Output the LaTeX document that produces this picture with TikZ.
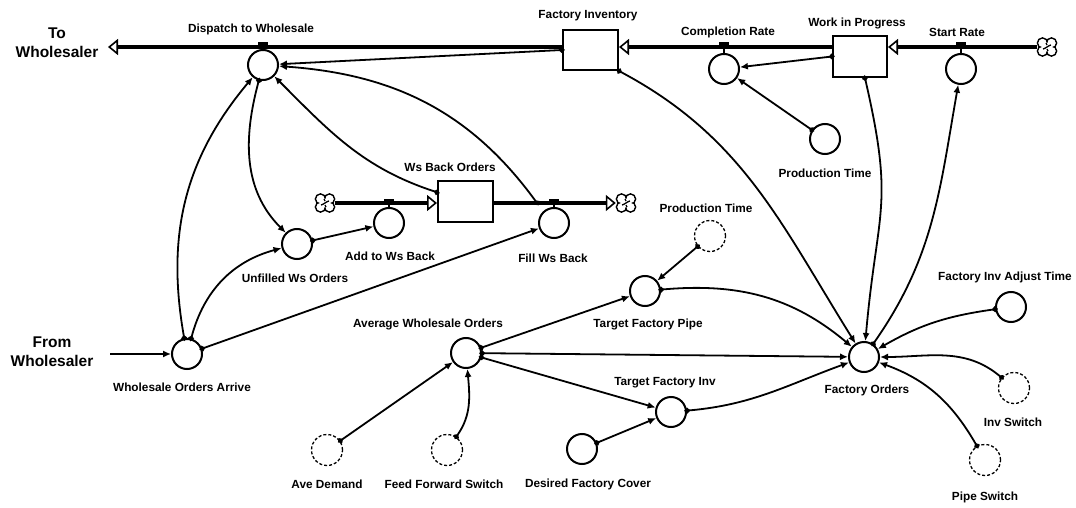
\documentclass[tikz,border=0pt]{standalone}
\usepackage{fontspec}
\setmainfont{Liberation Sans}
\usetikzlibrary{arrows.meta,calc}
\tikzset{
 aux/.style={circle, draw, line width=2pt, minimum size=30pt, inner sep=0pt},
 ghost/.style={circle, draw, line width=1.3pt, dash pattern=on 3pt off 2pt, minimum size=31pt, inner sep=0pt},
 stock/.style={rectangle, draw, line width=2pt, inner sep=0pt},
 link/.style={line width=1.8pt, {Circle[length=5.5pt]}-{Latex[length=8pt,width=7pt]}, shorten <=-2.5pt},
 pipe/.style={line width=3.5pt, -{Triangle[open,line width=1.6pt,length=10pt,width=16pt]}},
 stem/.style={line width=1.6pt},
 lbl/.style={font=\bfseries\fontsize{11.8}{13}\selectfont, inner sep=0pt},
 big/.style={font=\bfseries\fontsize{15.5}{19}\selectfont, align=center, inner sep=0pt},
 cloudspot/.style={minimum width=20pt, minimum height=18pt, inner sep=0pt},
 cloudpic/.pic={
   \foreach \dx/\dy in {-4.5/-4,4.5/-4,-4.5/4,4.5/4} \draw[line width=1.6pt] (\dx,\dy) circle (5);
   \foreach \dx/\dy in {-4.5/-4,4.5/-4,-4.5/4,4.5/4} \fill[white] (\dx,\dy) circle (4.1);
   \fill[white] (-4.5,-4) rectangle (4.5,4);
   \draw[line width=1.3pt] (-4,-2) to[out=0,in=200] (0,0) to[out=20,in=180] (4,2);
   \draw[line width=1.3pt] (-1,4) -- (0,2);
   \draw[line width=1.3pt] (1,-4) -- (0,-2);
 }
}
\begin{document}
\begin{tikzpicture}[x=1pt,y=1pt]
\useasboundingbox (0,0) rectangle (1076,507);
% stocks
\node[stock, minimum width=55pt, minimum height=40pt] (fi) at (590.5,457) {};
\node[stock, minimum width=54pt, minimum height=41pt] (wip) at (860,450.5) {};
\node[stock, minimum width=55pt, minimum height=41pt] (wbo) at (465.5,305.5) {};
% cloud places
\node[cloudspot] (cl1) at (325,304) {};
\node[cloudspot] (cl2) at (626,304) {};
\node[cloudspot] (cl3) at (1047,460) {};
% valves and auxiliaries
\node[aux] (disp) at (263,442) {};
\node[aux] (comp) at (724,438) {};
\node[aux] (start) at (961,438) {};
\node[aux] (addws) at (389,284) {};
\node[aux] (fill) at (554,284) {};
\node[aux] (pt1) at (825,368) {};
\node[aux] (unf) at (297,263) {};
\node[aux] (woa) at (187,153) {};
\node[aux] (awo) at (466,154) {};
\node[aux] (fo) at (864,150) {};
\node[aux] (tfp) at (645,216) {};
\node[ghost] (pt2) at (710,271) {};
\node[aux] (tfi) at (671,95) {};
\node[aux] (dfc) at (582,58) {};
\node[ghost] (ad) at (327,57) {};
\node[ghost] (ffs) at (447,57) {};
\node[aux] (fiat) at (1011,200) {};
\node[ghost] (isw) at (1014,119) {};
\node[ghost] (psw) at (985,47) {};
% pipes
\coordinate (toW) at (108,460);
\coordinate (fromW) at (110,153);
\draw[pipe] (fi.west |- toW) -- (toW);
\draw[pipe] (wip.west |- toW) -- (fi.east |- toW);
\draw[pipe] (cl3.west) -- (wip.east |- toW);
\draw[pipe] (cl1.east) -- (wbo.west |- cl1);
\draw[pipe] (wbo.east |- cl2) -- (cl2.west);
% clouds
\pic at (cl1) {cloudpic};
\pic at (cl2) {cloudpic};
\pic at (cl3) {cloudpic};
% valve stems
\foreach \v/\p in {disp/toW, comp/toW, start/toW, addws/cl1, fill/cl1}{
  \draw[stem] (\v.north) -- (\v.north |- \p);
  \fill ($(\v.north |- \p)+(-5,1.5)$) rectangle ++(10,3);
}
% inflow from wholesaler
\draw[line width=1.5pt, -{Latex[length=8pt,width=7pt]}] (fromW) -- (woa);
% connectors
\coordinate (fdot) at (537,304);
\draw[link] (fi.west) -- (disp);
\draw[link] (woa) to[out=100,in=230] (disp);
\draw[link] (disp) to[out=255,in=135] (unf);
\draw[link] (woa) to[out=75,in=195] (unf);
\draw[link] (unf) -- (addws);
\draw[link] (woa) -- (fill);
\draw[link] (wbo) to[out=162,in=315] (disp);
\draw[link] (fdot) to[out=126,in=356] (disp);
\draw[link] (wip.west) -- (comp);
\draw[link] (pt1) -- (comp);
\draw[link] (fi.south east) to[out=-28,in=122] (fo);
\draw[link] (wip) to[out=-77,in=85,looseness=1.3] (fo);
\draw[link] (fo) to[out=55,in=260] (start);
\draw[link] (tfp) to[out=5,in=140] (fo);
\draw[link] (awo) -- (fo);
\draw[link] (tfi) to[out=5,in=200] (fo);
\draw[link] (awo) -- (tfp);
\draw[link] (pt2) -- (tfp);
\draw[link] (awo) -- (tfi);
\draw[link] (dfc) -- (tfi);
\draw[link] (ad) -- (awo);
\draw[link] (ffs) to[out=55,in=275] (awo);
\draw[link] (fiat) to[out=188,in=30] (fo);
\draw[link] (isw) to[out=140,in=0] (fo);
\draw[link] (psw) to[out=120,in=340] (fo);
% labels
\node[big] (ltow) at (57,464) {To\\Wholesaler};
\node[big] (lfrom) at (52,155) {From\\Wholesaler};
\node[lbl] (l1) at (251,478) {Dispatch to Wholesale};
\node[lbl] (l2) at (588,491) {Factory Inventory};
\node[lbl] (l3) at (728,475) {Completion Rate};
\node[lbl] (l4) at (857,484) {Work in Progress};
\node[lbl] (l5) at (957,475) {Start Rate};
\node[lbl] (l6) at (825,334) {Production Time};
\node[lbl] (l7) at (450,340) {Ws Back Orders};
\node[lbl] (l8) at (390,251) {Add to Ws Back};
\node[lbl] (l9) at (553,249) {Fill Ws Back};
\node[lbl] (l10) at (295,229) {Unfilled Ws Orders};
\node[lbl] (l11) at (182,120) {Wholesale Orders Arrive};
\node[lbl] (l12) at (428,183) {Average Wholesale Orders};
\node[lbl] (l13) at (648,183) {Target Factory Pipe};
\node[lbl] (l14) at (706,299) {Production Time};
\node[lbl] (l15) at (665,124) {Target Factory Inv};
\node[lbl] (l16) at (867,117) {Factory Orders};
\node[lbl] (l17) at (1005,230) {Factory Inv Adjust Time};
\node[lbl] (l18) at (1013,85) {Inv Switch};
\node[lbl] (l19) at (985,10) {Pipe Switch};
\node[lbl] (l20) at (327,23) {Ave Demand};
\node[lbl] (l21) at (444,23) {Feed Forward Switch};
\node[lbl] (l22) at (588,23) {Desired Factory Cover};
\end{tikzpicture}
\end{document}
